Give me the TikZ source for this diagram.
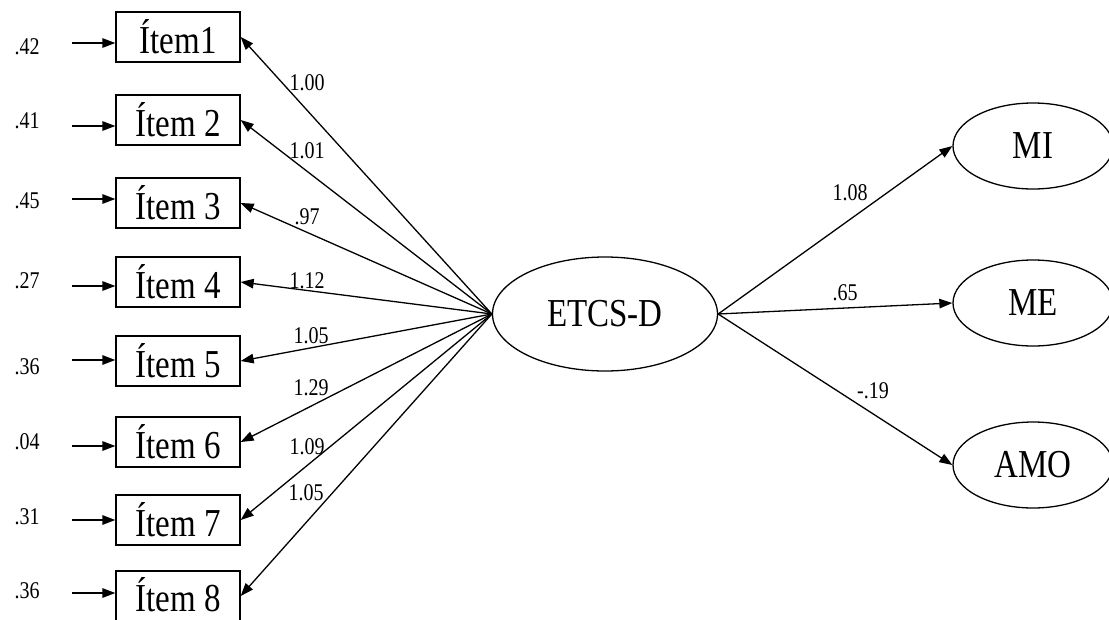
\documentclass[tikz,border=0pt]{standalone}
\usepackage{fontspec}
\usepackage{graphicx}
\setmainfont{Liberation Serif}
\usetikzlibrary{shapes.geometric,arrows.meta}
% slightly tall lettering
\newcommand{\tallt}[1]{\scalebox{1}[1.2]{#1}}
\begin{document}
\begin{tikzpicture}[x=1pt,y=-1pt,
  conn/.style={line width=1.3pt,-{Triangle[length=13pt,width=9.5pt]}},
  itembox/.style={draw,line width=1.3pt,minimum width=124pt,minimum height=50pt,inner sep=0pt,font=\fontsize{33}{36}\selectfont},
  latent/.style={draw,ellipse,line width=1.3pt,inner sep=0pt,font=\fontsize{33}{36}\selectfont},
  coef/.style={inner sep=0pt,font=\fontsize{20}{22}\selectfont}]
\useasboundingbox (0,0) rectangle (1109,619);
\fill[white] (0,0) rectangle (1109,619);

% observed items
\node[itembox] (i1) at (178,37) {\tallt{Ítem1}};
\node[itembox] (i2) at (178,120) {\tallt{Ítem 2}};
\node[itembox] (i3) at (178,203) {\tallt{Ítem 3}};
\node[itembox] (i4) at (178,282) {\tallt{Ítem 4}};
\node[itembox] (i5) at (178,361) {\tallt{Ítem 5}};
\node[itembox] (i6) at (178,442) {\tallt{Ítem 6}};
\node[itembox] (i7) at (178,520) {\tallt{Ítem 7}};
\node[itembox] (i8) at (178,596) {\raisebox{2.5pt}{\tallt{Ítem 8}}};

% latent factors
\node[latent,minimum width=225pt,minimum height=114pt] (f) at (605,314) {\tallt{ETCS-D}};
\node[latent,minimum width=160pt,minimum height=86pt] (mi) at (1033,146) {\tallt{MI}};
\node[latent,minimum width=160pt,minimum height=86pt] (me) at (1033,303) {\tallt{ME}};
\node[latent,minimum width=160pt,minimum height=86pt] (amo) at (1033,465) {\tallt{AMO}};

% error terms
\coordinate (e1) at (72,43);
\coordinate (e2) at (72,126);
\coordinate (e3) at (72,199);
\coordinate (e4) at (72,286);
\coordinate (e5) at (72,360);
\coordinate (e6) at (72,446);
\coordinate (e7) at (72,520);
\coordinate (e8) at (72,593);
\foreach \k in {1,...,8}{\draw[conn] (e\k) -- (i\k.west |- e\k);}
\node[coef] (r1) at (27,47) {\tallt{.42}};
\node[coef] (r2) at (27,121) {\tallt{.41}};
\node[coef] (r3) at (27,201) {\tallt{.45}};
\node[coef] (r4) at (27,281) {\tallt{.27}};
\node[coef] (r5) at (27,367) {\tallt{.36}};
\node[coef] (r6) at (27,442) {\tallt{.04}};
\node[coef] (r7) at (27,517) {\tallt{.31}};
\node[coef] (r8) at (27,591) {\tallt{.36}};

% loadings
\foreach \k in {1,...,8}{\draw[conn] (f.west) -- (i\k.east);}
\node[coef] (l1) at (307,83) {\tallt{1.00}};
\node[coef] (l2) at (307,151) {\tallt{1.01}};
\node[coef] (l3) at (307,217) {\tallt{.97}};
\node[coef] (l4) at (307,281) {\tallt{1.12}};
\node[coef] (l5) at (311,336) {\tallt{1.05}};
\node[coef] (l6) at (311,388) {\tallt{1.29}};
\node[coef] (l7) at (307,447) {\tallt{1.09}};
\node[coef] (l8) at (306,493) {\tallt{1.05}};

% structural paths
\draw[conn] (f.east) -- (mi.west);
\draw[conn] (f.east) -- (me.west);
\draw[conn] (f.east) -- (amo.west);
\node[coef] (p1) at (850,193) {\tallt{1.08}};
\node[coef] (p2) at (845,293) {\tallt{.65}};
\node[coef] (p3) at (873,391) {\tallt{-.19}};
\end{tikzpicture}
\end{document}
